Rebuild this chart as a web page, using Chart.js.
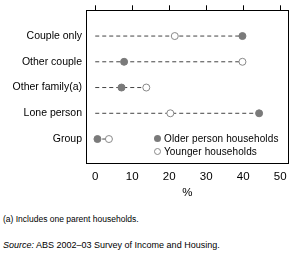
<!DOCTYPE html>
<html>
<head>
<meta charset="utf-8">
<script src="https://cdn.jsdelivr.net/npm/chart.js@4.4.0/dist/chart.umd.min.js"></script>
<style>
  body { margin: 0; background: #fff; font-family: "Liberation Sans", Arial, sans-serif; }
  #wrap { position: relative; width: 299px; height: 267px; }
  #box { position: absolute; left: 0; top: 0; width: 299px; height: 200px; }
  .leg { position: absolute; left: 154px; font-size: 10px; letter-spacing: 0.12px; color: #000; line-height: 12px; white-space: nowrap; }
  .leg span { display: inline-block; width: 7px; height: 7px; border-radius: 50%; margin-right: 3px; vertical-align: -0px; box-sizing: border-box; }
  .note { position: absolute; left: 3px; font-size: 8.5px; color: #000; white-space: nowrap; }
</style>
</head>
<body>
<div id="wrap">
  <div id="box"><canvas id="dot-chart"></canvas></div>
  <div class="leg" style="top:133px"><span style="background:#7a7a7a"></span>Older person households</div>
  <div class="leg" style="top:146px"><span style="background:#fff;border:1px solid #888"></span>Younger households</div>
  <div class="note" style="top:214px">(a) Includes one parent households.</div>
  <div class="note" style="top:240px;font-size:9px"><i>Source:</i> ABS 2002&ndash;03 Survey of Income and Housing.</div>
</div>
<script>
// datos
const categorias = ['Couple only', 'Other couple', 'Other family(a)', 'Lone person', 'Group'];
const mayores = [39.8, 7.8, 7.1, 44.3, 0.6];
const jovenes = [21.5, 39.8, 13.8, 20.3, 3.7];
const ticksX = [0, 10, 20, 30, 40, 50];

const font = { family: '"Liberation Sans", Arial, sans-serif', size: 11.5 };
const fontCat = { family: '"Liberation Sans", Arial, sans-serif', size: 10.5 };

// lineas punteadas desde 0 hasta el valor mayor de cada fila
const lineas = categorias.map((c, i) => ({
  type: 'line',
  data: [{ x: 0, y: i }, { x: Math.max(mayores[i], jovenes[i]), y: i }],
  borderColor: '#444',
  borderWidth: 1,
  borderDash: [4, 3],
  pointRadius: 0,
  order: 3,
}));

const ctx = document.getElementById('dot-chart').getContext('2d');
new Chart(ctx, {
  type: 'scatter',
  data: {
    datasets: [
      ...lineas,
      {
        label: 'Younger households',
        data: jovenes.map((v, i) => ({ x: v, y: i })),
        backgroundColor: '#fff',
        borderColor: '#888',
        borderWidth: 1,
        pointRadius: 3.5,
        order: 1,
      },
      {
        label: 'Older person households',
        data: mayores.map((v, i) => ({ x: v, y: i })),
        backgroundColor: '#7a7a7a',
        borderColor: '#7a7a7a',
        borderWidth: 1,
        pointRadius: 3.5,
        order: 1,
      },
    ],
  },
  options: {
    responsive: true,
    maintainAspectRatio: false,
    animation: false,
    layout: { padding: 0 },
    plugins: { legend: { display: false }, tooltip: { enabled: false } },
    scales: {
      x: {
        type: 'linear',
        position: 'bottom',
        min: -2.5,
        max: 52.25,
        afterBuildTicks: (s) => { s.ticks = ticksX.map(v => ({ value: v })); },
        afterFit: (s) => { s.height = 36.5; },
        grid: { display: false, drawTicks: false },
        border: { display: true, color: '#000', width: 1 },
        ticks: { color: '#000', font, padding: 6, maxRotation: 0 },
        title: { display: true, text: '%', color: '#000', font, padding: 0 },
      },
      xTop: {
        type: 'linear',
        position: 'top',
        min: -2.5,
        max: 52.25,
        afterBuildTicks: (s) => { s.ticks = ticksX.map(v => ({ value: v })); },
        afterFit: (s) => { s.height = 10; },
        grid: { drawOnChartArea: false, drawTicks: true, tickLength: 5, color: '#000' },
        border: { display: true, color: '#000', width: 1 },
        ticks: { display: false },
      },
      y: {
        type: 'linear',
        reverse: true,
        min: -1,
        max: 4.95,
        afterBuildTicks: (s) => { s.ticks = categorias.map((c, i) => ({ value: i })); },
        afterFit: (s) => { s.width = 86; },
        grid: { display: false, drawTicks: false },
        border: { display: true, color: '#000', width: 1 },
        ticks: {
          color: '#000',
          font: fontCat,
          padding: 4,
          callback: (v) => categorias[v] || '',
        },
      },
      yRight: {
        type: 'linear',
        position: 'right',
        min: -1,
        max: 4.95,
        afterFit: (s) => { s.width = 10.5; },
        grid: { display: false },
        border: { display: true, color: '#000', width: 1 },
        ticks: { display: false },
      },
    },
  },
});
</script>
</body>
</html>
